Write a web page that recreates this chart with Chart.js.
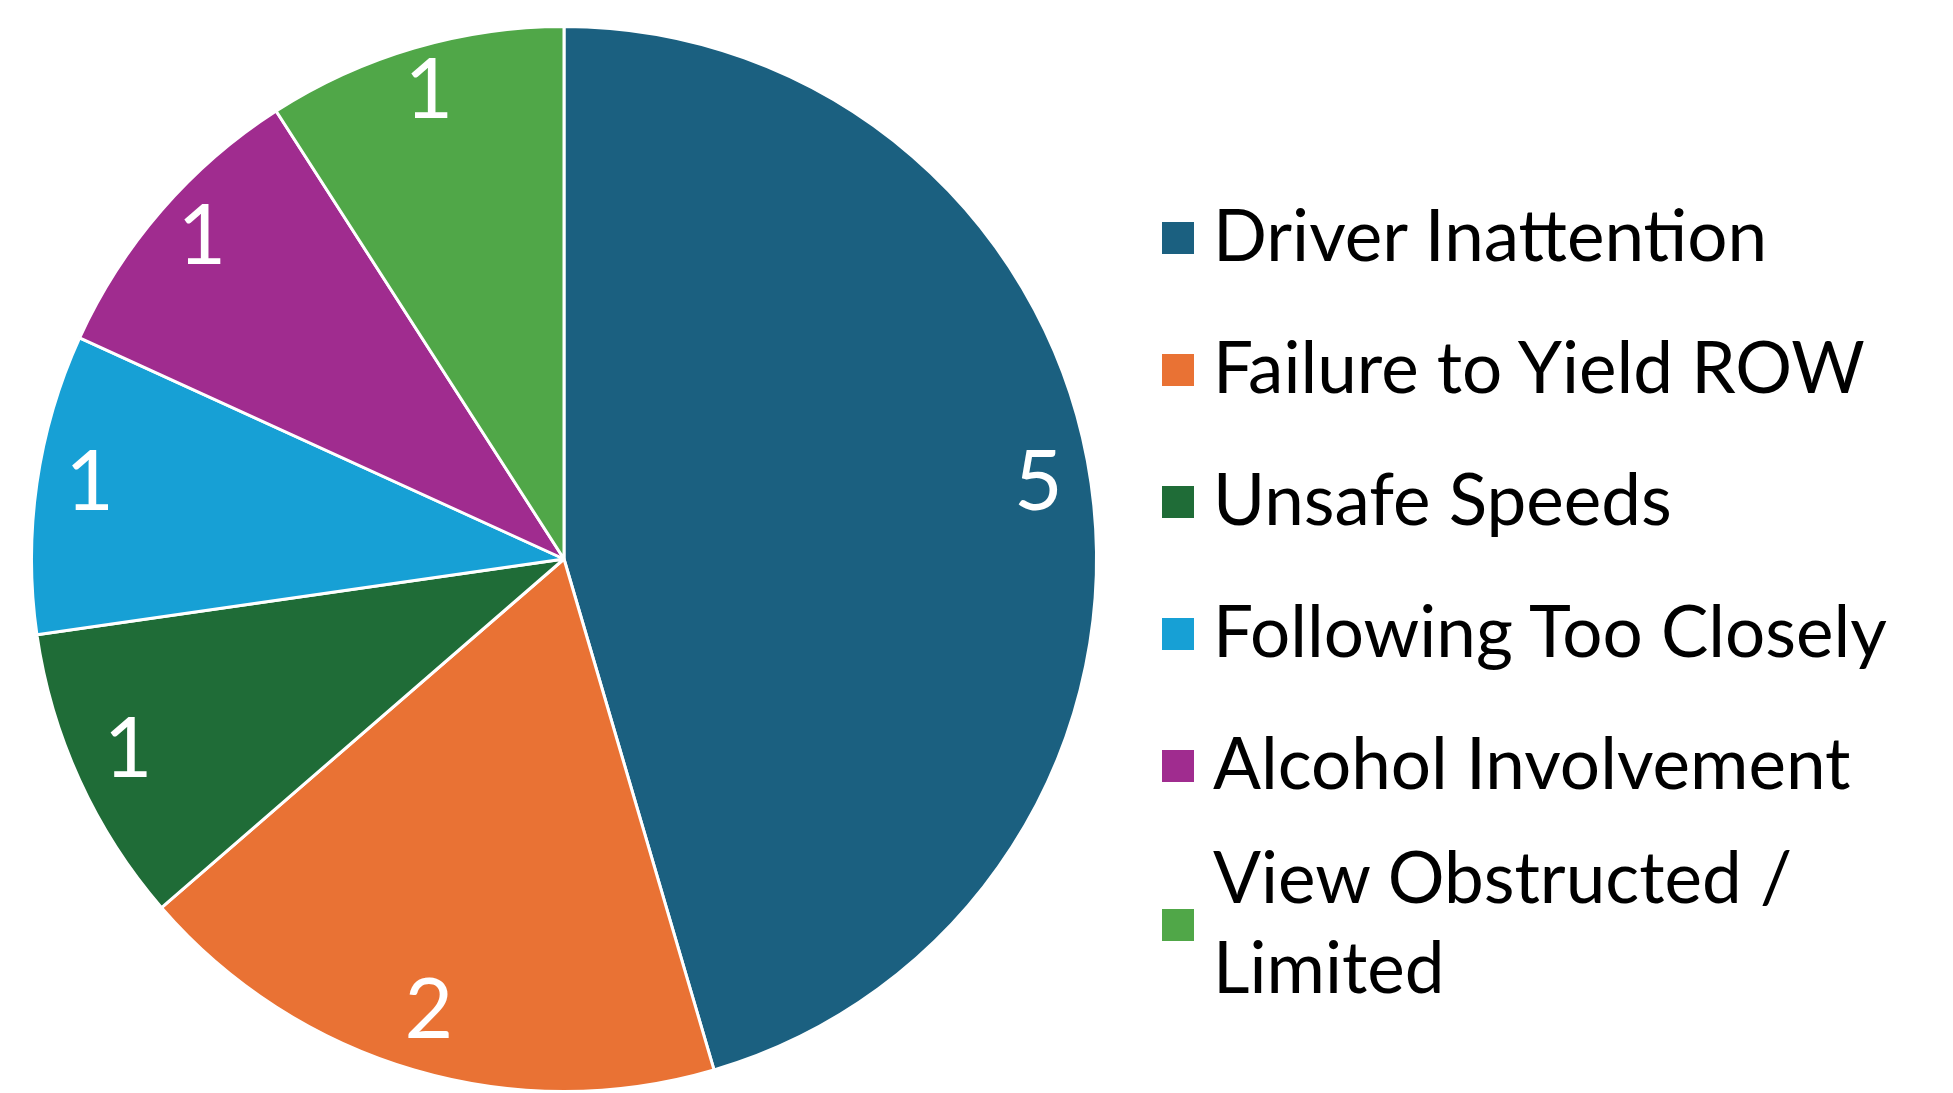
<!DOCTYPE html>
<html>
<head>
<meta charset="utf-8">
<script src="https://cdn.jsdelivr.net/npm/chart.js@4.4.1/dist/chart.umd.min.js"></script>
<style>
  html, body { margin: 0; padding: 0; background: #fff; }
  #wrap { position: relative; width: 1953px; height: 1093px; }
  #legend {
    position: absolute; left: 1162px; top: 189px;
    display: flex; flex-direction: column; gap: 42px;
    font-family: Lato, 'Liberation Sans', sans-serif; font-size: 71px; line-height: 90px; color: #000;
  }
  #legend .item { display: flex; align-items: center; }
  #legend .item.multi { margin-top: -18px; }
  #legend .box { width: 32px; height: 32px; flex: none; margin-top: 7px; margin-right: 19px; }
</style>
</head>
<body>
<div id="wrap">
  <canvas id="pie" width="1953" height="1093"></canvas>
  <div id="legend"></div>
</div>
<script>
const categories = ['Driver Inattention', 'Failure to Yield ROW', 'Unsafe Speeds', 'Following Too Closely', 'Alcohol Involvement', ['View Obstructed /', 'Limited']];
const counts = [5, 2, 1, 1, 1, 1];
const colors = ['#1b6080', '#e97234', '#1f6c37', '#17a0d5', '#a02c8f', '#50a748'];

// numeros brancos perto da borda de cada fatia
const sliceLabels = {
  id: 'sliceLabels',
  afterDatasetsDraw(chart) {
    const ctx = chart.ctx;
    const meta = chart.getDatasetMeta(0);
    const size = 84;
    ctx.save();
    ctx.fillStyle = '#fff';
    ctx.font = size + "px Lato, 'Liberation Sans', sans-serif";
    ctx.textAlign = 'center';
    ctx.textBaseline = 'alphabetic';
    meta.data.forEach((arc, i) => {
      const p = arc.getProps(['x', 'y', 'startAngle', 'endAngle', 'outerRadius'], true);
      const mid = (p.startAngle + p.endAngle) / 2;
      const r = p.outerRadius * 0.9;
      const x = p.x + Math.cos(mid) * r;
      const y = p.y + Math.sin(mid) * r;
      // a caixa do rotulo inclui o descendente, por isso o digito fica um pouco acima
      ctx.fillText(String(chart.data.datasets[0].data[i]), x, y + size * 0.36 - 11);
    });
    ctx.restore();
  }
};

const chart = new Chart(document.getElementById('pie').getContext('2d'), {
  type: 'pie',
  data: {
    labels: categories,
    datasets: [{
      data: counts,
      backgroundColor: colors,
      borderColor: '#ffffff',
      borderWidth: 3
    }]
  },
  options: {
    responsive: false,
    animation: false,
    layout: { padding: { left: 29, right: 854, top: 25, bottom: 0 } },
    plugins: {
      legend: { display: false },
      tooltip: { enabled: false }
    }
  },
  plugins: [sliceLabels]
});

// legenda em html
const legendEl = document.getElementById('legend');
categories.forEach((name, i) => {
  const item = document.createElement('div');
  item.className = 'item' + (Array.isArray(name) ? ' multi' : '');
  const box = document.createElement('span');
  box.className = 'box';
  box.style.background = colors[i];
  const text = document.createElement('span');
  text.innerHTML = Array.isArray(name) ? name.join('<br>') : name;
  item.appendChild(box);
  item.appendChild(text);
  legendEl.appendChild(item);
});
</script>
</body>
</html>
